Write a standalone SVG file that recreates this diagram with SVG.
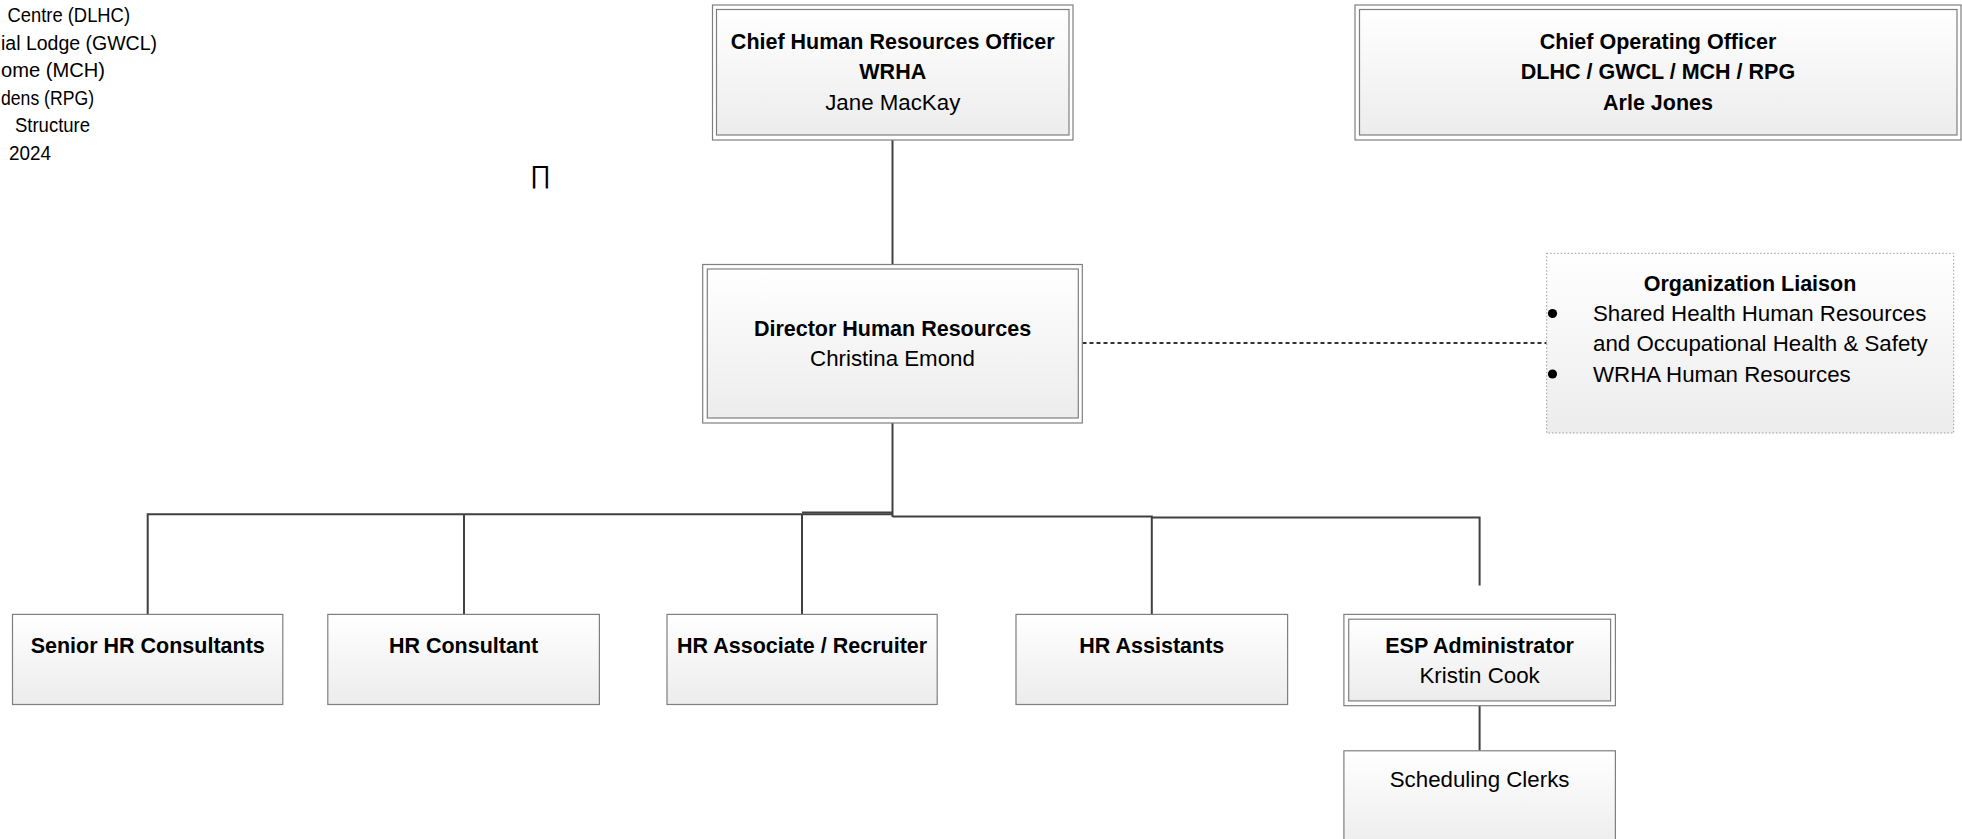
<svg xmlns="http://www.w3.org/2000/svg" width="1962" height="839" viewBox="0 0 1962 839">
<defs>
<linearGradient id="g" x1="0" y1="0" x2="0" y2="1">
<stop offset="0" stop-color="#ffffff"/>
<stop offset="1" stop-color="#ececec"/>
</linearGradient>
<style>
.t{font-family:"Liberation Sans",Arial,sans-serif;fill:#000}
.b{font-weight:bold;font-size:21.5px}
.r{font-size:22.3px}
.hdr{font-size:19.5px}
.c{text-anchor:middle}
.box{fill:url(#g);stroke:#7f7f7f;stroke-width:1.2}
.outer{fill:#fff;stroke:#7f7f7f;stroke-width:1.2}
.dot{fill:url(#g);stroke:#999;stroke-width:1;stroke-dasharray:1.5 2}
.ln{fill:none;stroke:#404040;stroke-width:2}
.dash{fill:none;stroke:#333;stroke-width:2;stroke-dasharray:4 3}
</style>
</defs>
<rect width="1962" height="839" fill="#fff"/>

<g id="header">
<text class="t hdr" x="7.5" y="22" textLength="122.5" lengthAdjust="spacingAndGlyphs">Centre (DLHC)</text>
<text class="t hdr" x="1" y="49.5" textLength="156" lengthAdjust="spacingAndGlyphs">ial Lodge (GWCL)</text>
<text class="t hdr" x="1" y="77" textLength="104" lengthAdjust="spacingAndGlyphs">ome (MCH)</text>
<text class="t hdr" x="1" y="104.5" textLength="93" lengthAdjust="spacingAndGlyphs">dens (RPG)</text>
<text class="t hdr" x="15" y="132" textLength="75" lengthAdjust="spacingAndGlyphs">Structure</text>
<text class="t hdr" x="9" y="159.5" textLength="42" lengthAdjust="spacingAndGlyphs">2024</text>
<text class="t" x="530" y="183" style="font-size:25px">∏</text>
</g>

<g id="connectors">
<path class="ln" d="M892.5 140 V264.5"/>
<path class="ln" d="M892.5 414 V517"/>
<path class="ln" d="M892.5 514.3 H147.7 V614.4"/>
<path class="ln" d="M802 514.3 V614.4"/>
<path class="ln" d="M802 512.5 H892.5"/>
<path class="ln" d="M464 514.3 V614.4"/>
<path class="ln" d="M892.5 516.5 H1151.8 V614.4"/>
<path class="ln" d="M1151.8 517.5 H1479.6 V585.5"/>
<path class="ln" d="M1479.6 705.7 V750.8"/>
<path class="dash" d="M1082.5 343 H1546.7"/>
</g>

<g id="chro">
<rect class="outer" x="712.5" y="5" width="360.5" height="135"/>
<rect class="box" x="716.5" y="9.5" width="352.5" height="125.5"/>
<text class="t b c" x="892.75" y="48.5">Chief Human Resources Officer</text>
<text class="t b c" x="892.75" y="79">WRHA</text>
<text class="t r c" x="892.75" y="110">Jane MacKay</text>
</g>

<g id="coo">
<rect class="outer" x="1355" y="5" width="606" height="135"/>
<rect class="box" x="1359.5" y="9.5" width="597.5" height="125.5"/>
<text class="t b c" x="1658" y="48.5">Chief Operating Officer</text>
<text class="t b c" x="1658" y="79">DLHC / GWCL / MCH / RPG</text>
<text class="t b c" x="1658" y="110">Arle Jones</text>
</g>

<g id="director">
<rect class="outer" x="702.7" y="264.5" width="379.6" height="158.5"/>
<rect class="box" x="707.3" y="269" width="371" height="149"/>
<text class="t b c" x="892.5" y="336">Director Human Resources</text>
<text class="t r c" x="892.5" y="366">Christina Emond</text>
</g>

<g id="liaison">
<rect class="dot" x="1546.7" y="253.3" width="407" height="179.7"/>
<text class="t b c" x="1750" y="291">Organization Liaison</text>
<circle cx="1552.5" cy="313.5" r="4.6" fill="#000"/>
<circle cx="1552.5" cy="374" r="4.6" fill="#000"/>
<text class="t r" x="1593" y="321">Shared Health Human Resources</text>
<text class="t r" x="1593" y="351">and Occupational Health &amp; Safety</text>
<text class="t r" x="1593" y="381.5">WRHA Human Resources</text>
</g>

<g id="senior-hr">
<rect class="box" x="12.5" y="614.4" width="270.3" height="90.1"/>
<text class="t b c" x="147.7" y="652.5">Senior HR Consultants</text>
</g>

<g id="hr-consultant">
<rect class="box" x="327.8" y="614.4" width="271.6" height="90.1"/>
<text class="t b c" x="463.6" y="652.5">HR Consultant</text>
</g>

<g id="hr-associate">
<rect class="box" x="667" y="614.4" width="270.2" height="90.1"/>
<text class="t b c" x="802.1" y="652.5">HR Associate / Recruiter</text>
</g>

<g id="hr-assistants">
<rect class="box" x="1016" y="614.4" width="271.6" height="90.1"/>
<text class="t b c" x="1151.8" y="652.5">HR Assistants</text>
</g>

<g id="esp">
<rect class="outer" x="1343.9" y="614.4" width="271.5" height="91.3"/>
<rect class="box" x="1348.7" y="619.2" width="261.9" height="81.7"/>
<text class="t b c" x="1479.6" y="652.5">ESP Administrator</text>
<text class="t r c" x="1479.6" y="682.5">Kristin Cook</text>
</g>

<g id="scheduling">
<rect class="box" x="1343.9" y="750.8" width="271.5" height="100"/>
<text class="t r c" x="1479.6" y="787">Scheduling Clerks</text>
</g>
</svg>
